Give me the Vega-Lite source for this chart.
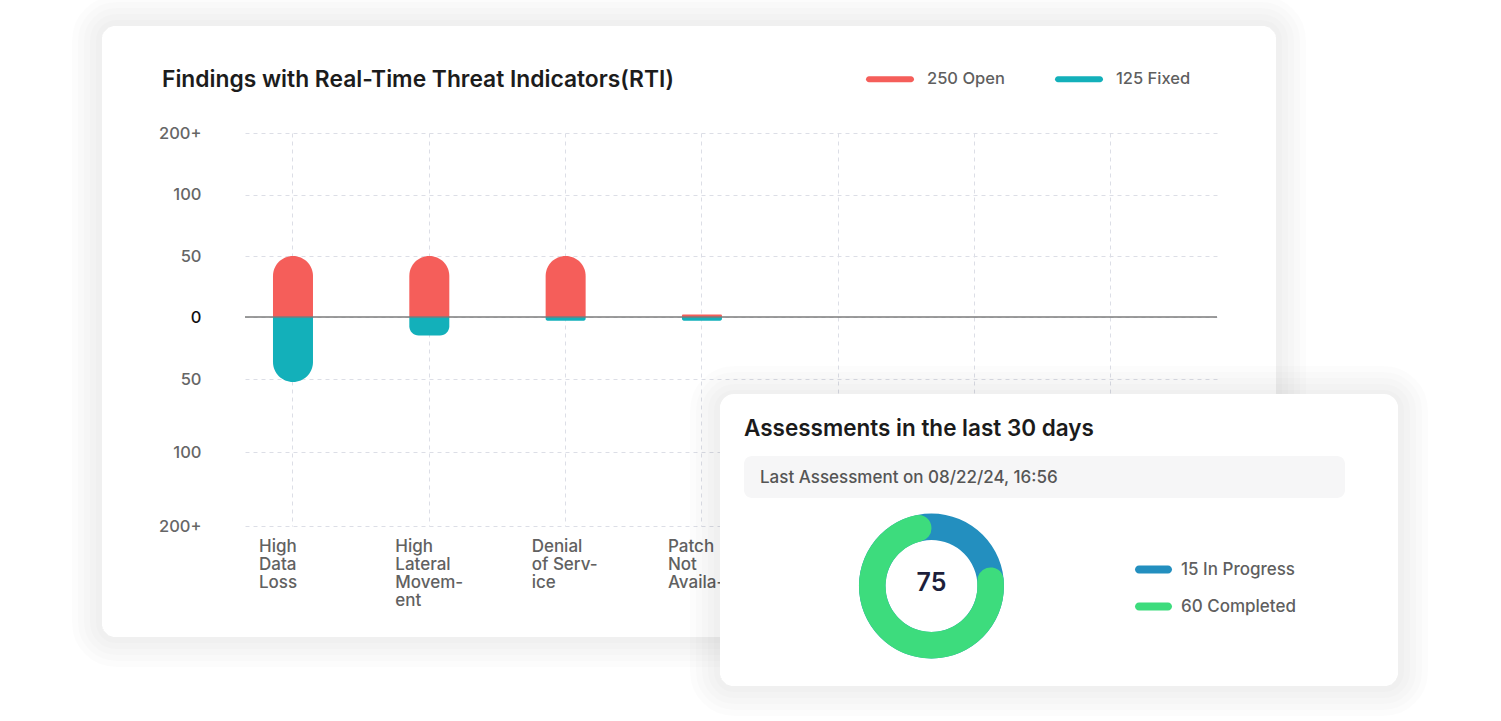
{
  "$schema": "https://vega.github.io/schema/vega-lite/v6.json",
  "width": 972,
  "height": 393,
  "autosize": {"type": "none"},
  "padding": {"left": 245, "top": 133, "right": 284, "bottom": 195},
  "background": "#ffffff",
  "config": {
    "view": {"stroke": null},
    "font": "Inter",
    "axis": {"labelFont": "Inter", "gridColor": "#dcdee6", "gridDash": [4, 4], "gridWidth": 1},
    "legend": {"labelFont": "Inter"}
  },
  "datasets": {
    "findings": [
      {"category": "High Data Loss", "status": "Open", "value": 50},
      {"category": "High Data Loss", "status": "Fixed", "value": -52},
      {"category": "High Lateral Movement", "status": "Open", "value": 50},
      {"category": "High Lateral Movement", "status": "Fixed", "value": -15},
      {"category": "Denial of Service", "status": "Open", "value": 50},
      {"category": "Denial of Service", "status": "Fixed", "value": -3},
      {"category": "Patch Not Available", "status": "Open", "value": 2},
      {"category": "Patch Not Available", "status": "Fixed", "value": -3},
      {"category": "Easy Exploit", "status": "Open", "value": 0},
      {"category": "Easy Exploit", "status": "Fixed", "value": 0},
      {"category": "Remote Code Execution", "status": "Open", "value": 0},
      {"category": "Remote Code Execution", "status": "Fixed", "value": 0},
      {"category": "Privilege Escalation", "status": "Open", "value": 0},
      {"category": "Privilege Escalation", "status": "Fixed", "value": 0}
    ],
    "assessments": [
      {"status": "In Progress", "count": 15},
      {"status": "Completed", "count": 60}
    ]
  },
  "layer": [
    {
      "data": {"values": [{"heading": "Findings with Real-Time Threat Indicators(RTI)"}]},
      "encoding": {
        "x": {"datum": 0, "type": "quantitative", "scale": {"domain": [0, 1], "range": [-143, 1031]}, "axis": null},
        "x2": {"datum": 1},
        "y": {"datum": 0, "type": "quantitative", "scale": {"domain": [0, 1], "range": [-107, 504]}, "axis": null},
        "y2": {"datum": 1}
      },
      "layer": [
        {"mark": {"type": "rect", "fill": "transparent", "stroke": "#000000", "strokeOpacity": 0.013, "strokeWidth": 6, "cornerRadius": 17, "xOffset": -3, "x2Offset": 3, "yOffset": -3, "y2Offset": 3}},
        {"mark": {"type": "rect", "fill": "transparent", "stroke": "#000000", "strokeOpacity": 0.013, "strokeWidth": 12, "cornerRadius": 20, "xOffset": -6, "x2Offset": 6, "yOffset": -6, "y2Offset": 6}},
        {"mark": {"type": "rect", "fill": "transparent", "stroke": "#000000", "strokeOpacity": 0.013, "strokeWidth": 18, "cornerRadius": 23, "xOffset": -9, "x2Offset": 9, "yOffset": -9, "y2Offset": 9}},
        {"mark": {"type": "rect", "fill": "transparent", "stroke": "#000000", "strokeOpacity": 0.013, "strokeWidth": 24, "cornerRadius": 26, "xOffset": -12, "x2Offset": 12, "yOffset": -12, "y2Offset": 12}},
        {"mark": {"type": "rect", "fill": "transparent", "stroke": "#000000", "strokeOpacity": 0.013, "strokeWidth": 30, "cornerRadius": 29, "xOffset": -15, "x2Offset": 15, "yOffset": -15, "y2Offset": 15}},
        {
          "mark": {"type": "text", "align": "left", "baseline": "alphabetic", "font": "Inter", "fontSize": 22.8, "fontWeight": 600, "color": "#1c1c1c"},
          "encoding": {
            "x": {"datum": 0.0511, "type": "quantitative"},
            "x2": null,
            "y": {"datum": 0.0998, "type": "quantitative"},
            "y2": null,
            "text": {"field": "heading"}
          }
        }
      ]
    },
    {
      "layer": [
        {
          "data": {"name": "findings"},
          "transform": [{"filter": "datum.status == 'Open'"}],
          "mark": {"type": "bar", "width": 40, "cornerRadiusTopLeft": 20, "cornerRadiusTopRight": 20},
          "encoding": {
            "x": {
              "field": "category", "type": "nominal",
              "scale": {"domain": ["High Data Loss", "High Lateral Movement", "Denial of Service", "Patch Not Available", "Easy Exploit", "Remote Code Execution", "Privilege Escalation"], "paddingInner": 0.296, "paddingOuter": 0.213, "align": 0},
              "axis": {
                "title": null, "domain": false, "ticks": false, "grid": true, "bandPosition": 0.5,
                "labelAngle": 0, "labelAlign": "left", "labelBaseline": "top", "labelOffset": -34, "labelPadding": 12,
                "labelFontSize": 17, "labelLineHeight": 18, "labelFontWeight": 500, "labelColor": "#616161", "labelOverlap": false, "labelBound": false,
                "labelExpr": "datum.label == 'High Data Loss' ? ['High', 'Data', 'Loss'] : datum.label == 'High Lateral Movement' ? ['High', 'Lateral', 'Movem-', 'ent'] : datum.label == 'Denial of Service' ? ['Denial', 'of Serv-', 'ice'] : datum.label == 'Patch Not Available' ? ['Patch', 'Not', 'Availa-ble'] : ''"
              }
            },
            "y": {
              "field": "value", "type": "quantitative", "stack": null,
              "scale": {"domain": [-200, -100, -50, 0, 50, 100, 200], "range": [393, 319, 246, 184, 123, 61.5, 0], "nice": false, "zero": false},
              "axis": {
                "title": null, "domain": false, "ticks": false, "grid": true,
                "values": [-200, -100, -50, 0, 50, 100, 200],
                "labelExpr": "abs(datum.value) >= 200 ? '200+' : '' + abs(datum.value)",
                "labelPadding": 44, "labelFontSize": 16.5, "labelFontWeight": 500,
                "labelColor": {"condition": {"test": "datum.value == 0", "value": "#111111"}, "value": "#666666"}
              }
            },
            "color": {
              "field": "status", "type": "nominal",
              "scale": {"domain": ["Open", "Fixed"], "range": ["#F55E5A", "#13B0BA"]},
              "legend": {
                "title": null, "orient": "none", "direction": "horizontal", "legendX": 621, "legendY": -78,
                "symbolType": "M-0.875,-0.125L0.875,-0.125A0.125,0.125 0 0 1 0.875,0.125L-0.875,0.125A0.125,0.125 0 0 1 -0.875,-0.125Z",
                "symbolSize": 2304, "symbolStrokeWidth": 0, "symbolOpacity": 1,
                "labelFontSize": 16.5, "labelFontWeight": 500, "labelColor": "#5f5f5f", "labelOffset": 13, "columnPadding": 50,
                "labelExpr": "datum.label == 'Open' ? '250 Open' : '125 Fixed'"
              }
            }
          }
        },
        {
          "data": {"name": "findings"},
          "transform": [{"filter": "datum.status == 'Fixed'"}],
          "mark": {"type": "bar", "width": 40, "cornerRadiusBottomLeft": 20, "cornerRadiusBottomRight": 20},
          "encoding": {
            "x": {"field": "category", "type": "nominal"},
            "y": {"field": "value", "type": "quantitative", "stack": null},
            "color": {"field": "status", "type": "nominal"}
          }
        },
        {
          "data": {"values": [{"baseline": 0}]},
          "mark": {"type": "rule", "color": "#7b7b7b", "strokeWidth": 1.5},
          "encoding": {"y": {"field": "baseline", "type": "quantitative"}}
        }
      ]
    },
    {
      "layer": [
        {
          "data": {"values": [{"card": "Assessments"}]},
          "encoding": {
            "x": {"datum": 0, "type": "quantitative", "scale": {"domain": [0, 1], "range": [475, 1153]}, "axis": null},
            "x2": {"datum": 1},
            "y": {"datum": 0, "type": "quantitative", "scale": {"domain": [0, 1], "range": [261, 551]}, "axis": null},
            "y2": {"datum": 1}
          },
          "layer": [
            {"mark": {"type": "rect", "fill": "transparent", "stroke": "#000000", "strokeOpacity": 0.013, "strokeWidth": 6, "cornerRadius": 17, "xOffset": -3, "x2Offset": 3, "yOffset": -1, "y2Offset": 5}},
            {"mark": {"type": "rect", "fill": "transparent", "stroke": "#000000", "strokeOpacity": 0.013, "strokeWidth": 12, "cornerRadius": 20, "xOffset": -6, "x2Offset": 6, "yOffset": -4, "y2Offset": 8}},
            {"mark": {"type": "rect", "fill": "transparent", "stroke": "#000000", "strokeOpacity": 0.013, "strokeWidth": 18, "cornerRadius": 23, "xOffset": -9, "x2Offset": 9, "yOffset": -7, "y2Offset": 11}},
            {"mark": {"type": "rect", "fill": "transparent", "stroke": "#000000", "strokeOpacity": 0.013, "strokeWidth": 24, "cornerRadius": 26, "xOffset": -12, "x2Offset": 12, "yOffset": -10, "y2Offset": 14}},
            {"mark": {"type": "rect", "fill": "transparent", "stroke": "#000000", "strokeOpacity": 0.013, "strokeWidth": 30, "cornerRadius": 29, "xOffset": -15, "x2Offset": 15, "yOffset": -13, "y2Offset": 17}},
            {"mark": {"type": "rect", "fill": "#ffffff", "cornerRadius": 14}}
          ]
        },
        {
          "data": {"values": [{"caption": "Last Assessment on 08/22/24, 16:56"}]},
          "mark": {"type": "rect", "fill": "#f6f6f7", "cornerRadius": 8},
          "encoding": {
            "x": {"datum": 0.0354, "type": "quantitative", "scale": {"domain": [0, 1], "range": [475, 1153]}, "axis": null},
            "x2": {"datum": 0.9218},
            "y": {"datum": 0.2138, "type": "quantitative", "scale": {"domain": [0, 1], "range": [261, 551]}, "axis": null},
            "y2": {"datum": 0.3586}
          }
        },
        {
          "data": {"values": [{"caption": "Last Assessment on 08/22/24, 16:56"}]},
          "mark": {"type": "text", "align": "left", "baseline": "middle", "font": "Inter", "fontSize": 17, "fontWeight": 500, "color": "#555555"},
          "encoding": {
            "x": {"datum": 0.059, "type": "quantitative", "scale": {"domain": [0, 1], "range": [475, 1153]}, "axis": null},
            "y": {"datum": 0.2897, "type": "quantitative", "scale": {"domain": [0, 1], "range": [261, 551]}, "axis": null},
            "text": {"field": "caption"}
          }
        },
        {
          "data": {"values": [{"heading": "Assessments in the last 30 days"}]},
          "mark": {"type": "text", "align": "left", "baseline": "middle", "font": "Inter", "fontSize": 22.5, "fontWeight": 600, "color": "#1b1b1b"},
          "encoding": {
            "x": {"datum": 0.0354, "type": "quantitative", "scale": {"domain": [0, 1], "range": [475, 1153]}, "axis": null},
            "y": {"datum": 0.1207, "type": "quantitative", "scale": {"domain": [0, 1], "range": [261, 551]}, "axis": null},
            "text": {"field": "heading"}
          }
        },
        {
          "data": {"name": "assessments"},
          "transform": [{"filter": "datum.status == 'In Progress'"}],
          "mark": {"type": "arc", "radius": 72.5, "radius2": 46, "theta": 0, "theta2": 6.2832},
          "encoding": {
            "x": {"datum": 0.3119, "type": "quantitative", "scale": {"domain": [0, 1], "range": [475, 1153]}, "axis": null},
            "y": {"datum": 0.6621, "type": "quantitative", "scale": {"domain": [0, 1], "range": [261, 551]}, "axis": null},
            "color": {
              "field": "status", "type": "nominal",
              "scale": {"domain": ["In Progress", "Completed"], "range": ["#238FBF", "#3DDC7D"]},
              "legend": {
                "title": null, "orient": "none", "direction": "vertical", "legendX": 890, "legendY": 418,
                "symbolType": "M-0.784,-0.216L0.784,-0.216A0.216,0.216 0 0 1 0.784,0.216L-0.784,0.216A0.216,0.216 0 0 1 -0.784,-0.216Z",
                "symbolSize": 1369, "symbolStrokeWidth": 0, "symbolOpacity": 1, "rowPadding": 10,
                "labelFontSize": 17, "labelFontWeight": 500, "labelColor": "#5f5f5f", "labelOffset": 9,
                "labelExpr": "datum.label == 'In Progress' ? '15 In Progress' : '60 Completed'"
              }
            }
          }
        },
        {
          "data": {"name": "assessments"},
          "transform": [{"filter": "datum.status == 'Completed'"}],
          "mark": {"type": "arc", "radius": 72.5, "radius2": 46, "cornerRadius": 13},
          "encoding": {
            "x": {"datum": 0.3119, "type": "quantitative", "scale": {"domain": [0, 1], "range": [475, 1153]}, "axis": null},
            "y": {"datum": 0.6621, "type": "quantitative", "scale": {"domain": [0, 1], "range": [261, 551]}, "axis": null},
            "theta": {"field": "count", "type": "quantitative", "scale": {"domain": [0, 75], "range": [1.2566, 7.5398]}},
            "color": {"field": "status", "type": "nominal"}
          }
        },
        {
          "data": {"name": "assessments"},
          "transform": [{"aggregate": [{"op": "sum", "field": "count", "as": "total"}]}],
          "mark": {"type": "text", "align": "center", "baseline": "middle", "font": "Inter", "fontSize": 25, "fontWeight": 600, "color": "#1d1f3b"},
          "encoding": {
            "x": {"datum": 0.3119, "type": "quantitative", "scale": {"domain": [0, 1], "range": [475, 1153]}, "axis": null},
            "y": {"datum": 0.652, "type": "quantitative", "scale": {"domain": [0, 1], "range": [261, 551]}, "axis": null},
            "text": {"field": "total", "type": "quantitative"}
          }
        }
      ]
    }
  ],
  "resolve": {
    "scale": {"x": "independent", "y": "independent", "color": "independent"},
    "legend": {"color": "independent"}
  }
}
